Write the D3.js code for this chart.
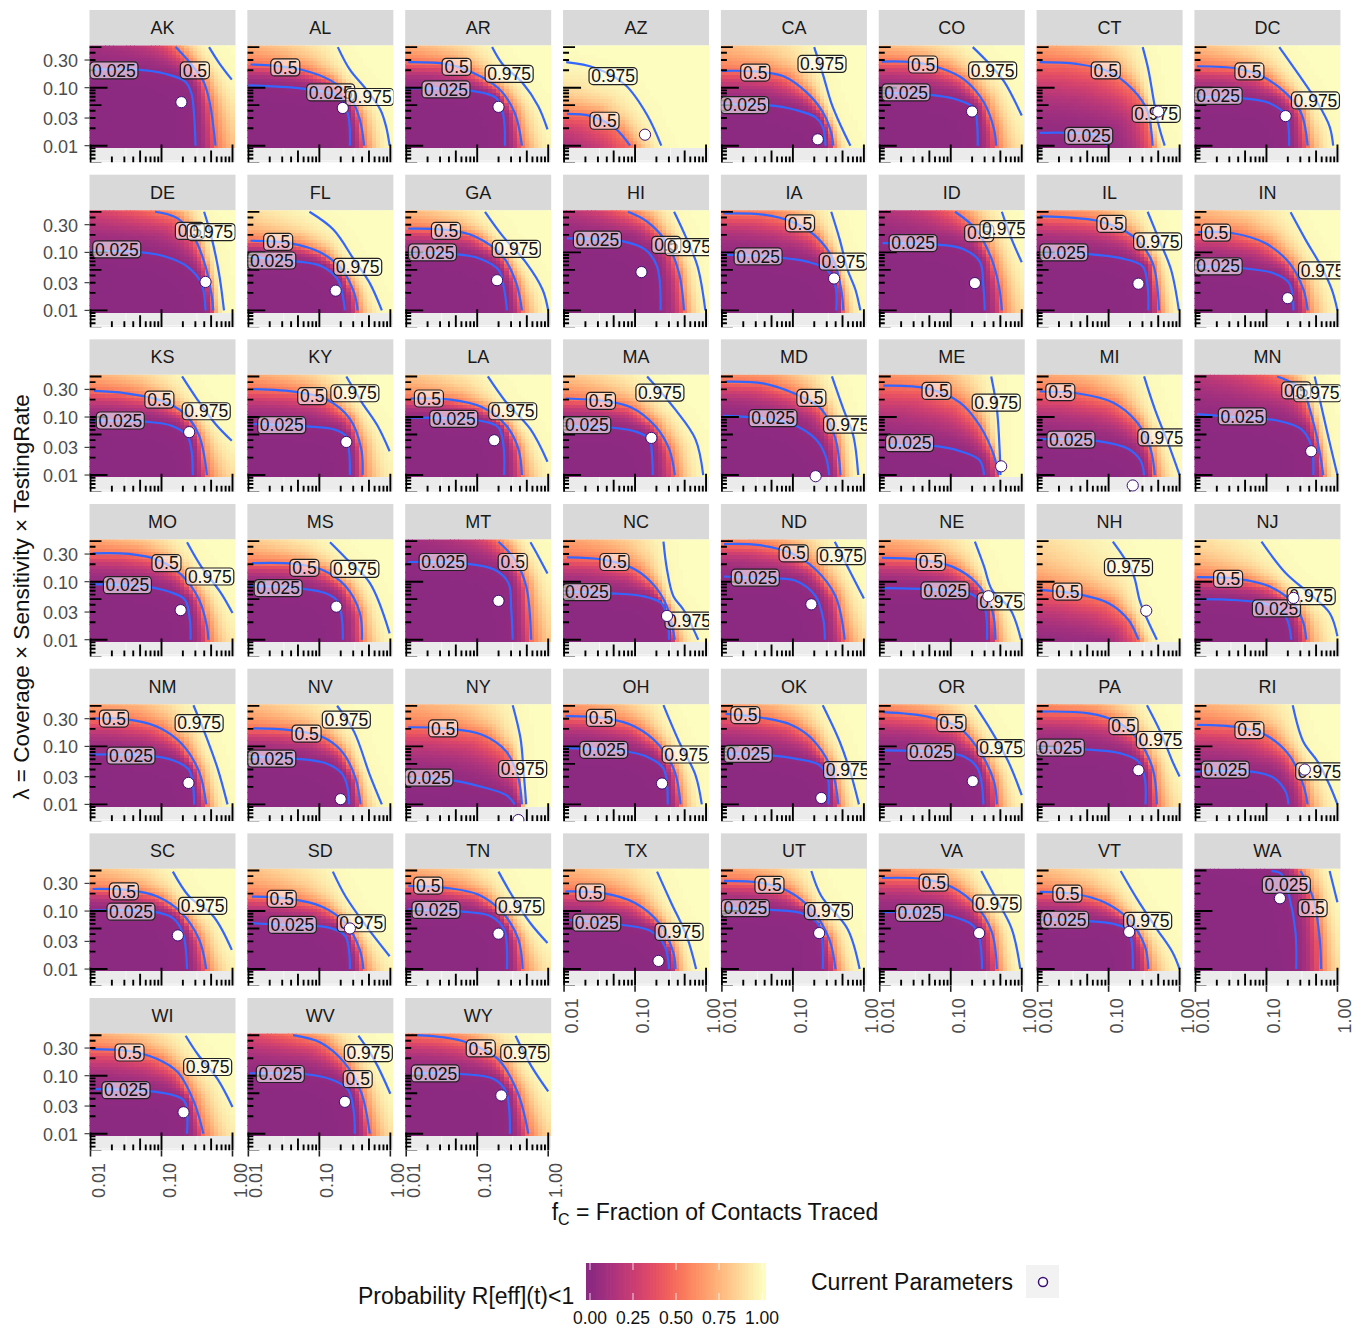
<!DOCTYPE html>
<html>
<head>
<meta charset="utf-8">
<script src="https://cdn.jsdelivr.net/npm/d3@7"></script>
<style>
  html, body { margin: 0; padding: 0; background: #fff; }
  svg { display: block; font-family: "Liberation Sans", Arial, sans-serif; }
</style>
</head>
<body>
<svg id="chart" width="1362" height="1330"></svg>
<script>
const states = ['AK','AL','AR','AZ','CA','CO','CT','DC','DE','FL','GA','HI','IA','ID','IL','IN','KS','KY','LA','MA','MD','ME','MI','MN','MO','MS','MT','NC','ND','NE','NH','NJ','NM','NV','NY','OH','OK','OR','PA','RI','SC','SD','TN','TX','UT','VA','VT','WA','WI','WV','WY']

// all pairs below are [fC, lambda], given in decades above 0.01
const contour025 = [
  [[0,1.31],[.66,1.31],[1.05,1.24],[1.33,1.11],[1.42,.91],[1.46,.51],[1.48,0]],
  [[0,1.04],[.41,1.02],[.86,.97],[1.26,.85],[1.40,.56],[1.43,0]],
  [[0,.99],[.28,.99],[.90,.95],[1.27,.82],[1.37,.51],[1.39,0]],
  [[-1,0],[-.5,-.3],[0,-.65],[.3,-1.5]],
  [[0,.71],[.64,.70],[1.03,.62],[1.32,.49],[1.42,.33],[1.46,0]],
  [[0,.91],[.68,.88],[1.07,.80],[1.33,.65],[1.37,.39],[1.38,0]],
  [[.03,.22],[.44,.22],[.89,.16],[.97,0]],
  [[.02,.84],[.64,.82],[1.03,.74],[1.27,.53],[1.31,.33],[1.32,0]],
  [[0,1.02],[.66,1.01],[1.05,.93],[1.36,.76],[1.56,.47],[1.62,0]],
  [[0,.92],[.64,.85],[1.03,.76],[1.26,.53],[1.34,.18],[1.36,0]],
  [[.03,.99],[.68,.97],[1.02,.90],[1.30,.70],[1.38,.36],[1.42,0]],
  [[.04,1.24],[.83,1.19],[1.14,1.05],[1.31,.76],[1.36,0]],
  [[.02,.96],[.81,.91],[1.20,.84],[1.48,.70],[1.60,.41],[1.61,0]],
  [[.04,1.16],[.85,1.13],[1.19,1.05],[1.41,.84],[1.46,.41],[1.48,0]],
  [[.04,.99],[.72,.97],[1.17,.90],[1.48,.76],[1.55,.41],[1.56,0]],
  [[.02,.76],[.64,.73],[1.10,.64],[1.32,.47],[1.38,0]],
  [[0,.94],[.77,.92],[1.14,.85],[1.36,.68],[1.42,.45],[1.44,0]],
  [[.07,.88],[.81,.84],[1.20,.79],[1.37,.68],[1.42,.39],[1.43,0]],
  [[.03,.99],[1.02,.94],[1.30,.82],[1.37,.51],[1.38,0]],
  [[.02,.84],[.66,.82],[1.03,.74],[1.20,.62],[1.24,.33],[1.25,0]],
  [[.02,1.02],[.47,.99],[.98,.88],[1.32,.62],[1.46,.33],[1.51,0]],
  [[.08,.51],[.85,.49],[1.19,.39],[1.41,.25],[1.47,0]],
  [[.03,.62],[.83,.59],[1.28,.45],[1.45,.25],[1.50,0]],
  [[.02,1.05],[.64,.99],[1.15,.94],[1.49,.79],[1.63,.51],[1.66,0]],
  [[0,.96],[.76,.92],[1.10,.83],[1.33,.69],[1.40,.34],[1.41,0]],
  [[.02,.93],[.69,.89],[1.09,.80],[1.26,.66],[1.32,.34],[1.33,0]],
  [[.03,1.34],[.79,1.32],[1.24,1.21],[1.44,.98],[1.48,.52],[1.50,0]],
  [[.02,.83],[.66,.80],[1.11,.75],[1.37,.63],[1.45,.41],[1.48,0]],
  [[.03,1.09],[.53,1.06],[1.03,1.02],[1.32,.75],[1.43,.34],[1.45,0]],
  [[.03,.89],[.85,.86],[1.30,.78],[1.47,.57],[1.51,0]],
  [[0,-.1],[.8,-.15],[1.0,-.5]],
  [[.02,.70],[.59,.68],[1.04,.60],[1.27,.40],[1.35,0]],
  [[0,.86],[.82,.84],[1.16,.76],[1.39,.59],[1.46,0]],
  [[.02,.82],[.64,.79],[1.09,.71],[1.32,.53],[1.40,.28],[1.42,0]],
  [[.03,.45],[.56,.43],[1.07,.30],[1.41,.16],[1.53,0]],
  [[.02,.97],[.83,.92],[1.17,.82],[1.40,.62],[1.46,0]],
  [[.03,.88],[.64,.85],[1.03,.79],[1.37,.68],[1.49,.45],[1.50,0]],
  [[.05,.93],[.85,.90],[1.19,.82],[1.38,.62],[1.46,0]],
  [[.03,.98],[.77,.94],[1.17,.88],[1.42,.74],[1.51,.45],[1.52,0]],
  [[0,.57],[.87,.55],[1.10,.46],[1.27,.22],[1.31,0]],
  [[.03,1.01],[.88,.99],[1.16,.88],[1.30,.62],[1.36,0]],
  [[.05,.79],[.69,.75],[1.15,.71],[1.37,.56],[1.43,0]],
  [[.03,1.03],[.79,.99],[1.19,.91],[1.38,.68],[1.42,0]],
  [[.02,.85],[.83,.76],[1.23,.65],[1.42,.39],[1.48,0]],
  [[.03,1.05],[.69,1.02],[1.15,.95],[1.37,.75],[1.42,0]],
  [[.03,.98],[.62,.98],[1.07,.89],[1.36,.69],[1.44,0]],
  [[.03,.86],[.66,.83],[1.06,.78],[1.28,.66],[1.34,0]],
  [[1.07,1.69],[1.21,1.64],[1.32,1.26],[1.41,.63],[1.42,0]],
  [[.04,.77],[.79,.74],[1.18,.66],[1.33,.55],[1.36,0]],
  [[.02,1.04],[.78,1.03],[1.16,.94],[1.40,.77],[1.48,.43],[1.50,0]],
  [[.08,1.04],[.77,1.03],[1.24,.94],[1.41,.71],[1.46,0]]
]

const contour50 = [
  [[1.2,1.70],[1.4,1.43],[1.59,1.11],[1.68,.74],[1.73,.33],[1.76,0]],
  [[.03,1.40],[.36,1.38],[.75,1.31],[1.15,1.13],[1.43,.85],[1.57,.45],[1.63,0]],
  [[.03,1.44],[.56,1.41],[.90,1.28],[1.30,.99],[1.53,.56],[1.63,0]],
  [[.04,.55],[.38,.51],[.72,.30],[.93,0]],
  [[0,1.29],[.47,1.28],[.86,1.20],[1.20,.91],[1.43,.56],[1.54,.22],[1.57,0]],
  [[.03,1.45],[.45,1.44],[.85,1.34],[1.19,1.14],[1.47,.74],[1.61,.28],[1.64,0]],
  [[.03,1.44],[.55,1.41],[1.0,1.28],[1.34,.97],[1.54,.62],[1.62,0]],
  [[.02,1.37],[.59,1.33],[.93,1.20],[1.27,.91],[1.49,.56],[1.58,0]],
  [[.91,1.70],[1.22,1.59],[1.45,1.28],[1.62,.76],[1.70,.30],[1.73,0]],
  [[.03,1.20],[.58,1.16],[1.03,.99],[1.32,.70],[1.49,.30],[1.54,0]],
  [[.03,1.41],[.56,1.39],[.96,1.28],[1.36,.93],[1.55,.47],[1.63,0]],
  [[.90,1.70],[1.17,1.53],[1.45,1.16],[1.62,.64],[1.69,0]],
  [[.02,1.67],[.58,1.65],[.98,1.53],[1.32,1.28],[1.57,.87],[1.68,.36],[1.71,0]],
  [[1.06,1.70],[1.36,1.39],[1.58,.87],[1.68,.41],[1.72,0]],
  [[.03,1.62],[.55,1.59],[.89,1.53],[1.34,1.28],[1.62,.82],[1.71,0]],
  [[.04,1.35],[.53,1.33],[.98,1.16],[1.32,.82],[1.52,.36],[1.58,0]],
  [[.05,1.45],[.49,1.41],[1.0,1.28],[1.33,1.05],[1.53,.68],[1.64,0]],
  [[.07,1.48],[.69,1.43],[1.09,1.31],[1.43,.97],[1.59,.45],[1.61,0]],
  [[.06,1.32],[.62,1.30],[1.07,1.17],[1.41,.85],[1.58,.45],[1.63,0]],
  [[.02,1.32],[.55,1.28],[.94,1.17],[1.28,.85],[1.48,.45],[1.56,0]],
  [[.05,1.61],[.58,1.58],[1.03,1.40],[1.40,1.14],[1.60,.62],[1.67,0]],
  [[.05,1.54],[.68,1.49],[1.13,1.25],[1.41,.85],[1.61,.33],[1.67,0]],
  [[.03,1.44],[.55,1.41],[1.06,1.25],[1.40,.91],[1.59,.45],[1.65,0]],
  [[1.15,1.70],[1.49,1.48],[1.66,.91],[1.75,.39],[1.80,0]],
  [[.03,1.49],[.54,1.48],[.94,1.38],[1.28,1.12],[1.53,.69],[1.64,.23],[1.66,0]],
  [[.05,1.32],[.64,1.31],[1.03,1.21],[1.37,.92],[1.57,.46],[1.60,0]],
  [[1.30,1.69],[1.53,1.38],[1.69,.92],[1.76,0]],
  [[.04,1.42],[.55,1.38],[1.0,1.21],[1.28,.92],[1.45,.57],[1.56,0]],
  [[.03,1.65],[.53,1.63],[.98,1.49],[1.32,1.21],[1.60,.75],[1.73,0]],
  [[.03,1.41],[.56,1.38],[1.02,1.26],[1.36,.98],[1.58,.52],[1.63,0]],
  [[.03,.86],[.55,.79],[1.0,.63],[1.28,.34],[1.42,0]],
  [[.02,1.08],[.59,1.05],[1.04,.92],[1.38,.63],[1.52,.29],[1.56,0]],
  [[.03,1.48],[.49,1.47],[.94,1.34],[1.28,1.05],[1.53,.56],[1.63,0]],
  [[.07,1.31],[.58,1.28],[1.03,1.17],[1.32,.91],[1.51,.45],[1.58,0]],
  [[.03,1.33],[.56,1.31],[1.07,1.20],[1.41,.91],[1.58,.45],[1.63,0]],
  [[.02,1.52],[.55,1.49],[1.0,1.34],[1.34,1.02],[1.56,.56],[1.64,0]],
  [[.05,1.56],[.58,1.49],[.98,1.37],[1.26,1.14],[1.54,.62],[1.64,0]],
  [[.05,1.59],[.68,1.51],[1.13,1.31],[1.44,.85],[1.61,.39],[1.65,0]],
  [[.03,1.60],[.72,1.57],[1.11,1.43],[1.40,1.14],[1.62,.62],[1.68,0]],
  [[.02,1.37],[.59,1.33],[.98,1.20],[1.32,.85],[1.52,.33],[1.58,0]],
  [[.03,1.38],[.54,1.36],[.94,1.25],[1.28,.97],[1.53,.51],[1.63,0]],
  [[.05,1.25],[.58,1.21],[1.03,1.08],[1.37,.79],[1.57,.33],[1.62,0]],
  [[.03,1.43],[.56,1.40],[1.02,1.28],[1.36,.97],[1.58,.51],[1.64,0]],
  [[.02,1.34],[.55,1.31],[1.0,1.14],[1.34,.79],[1.54,.28],[1.57,0]],
  [[.03,1.52],[.53,1.49],[.92,1.35],[1.26,1.03],[1.51,.52],[1.60,0]],
  [[.03,1.57],[.62,1.55],[1.02,1.41],[1.36,1.09],[1.58,.63],[1.65,0]],
  [[.03,1.33],[.55,1.29],[.94,1.15],[1.28,.86],[1.51,.40],[1.56,0]],
  [[1.48,1.69],[1.66,1.21],[1.75,.52],[1.77,0]],
  [[.01,1.46],[.51,1.43],[.94,1.29],[1.23,1.06],[1.46,.54],[1.59,0]],
  [[.63,1.70],[1.02,1.57],[1.35,1.23],[1.59,.71],[1.71,0]],
  [[.15,1.70],[.53,1.66],[.86,1.57],[1.29,1.29],[1.57,.71],[1.72,0]]
]

const contour975 = [
  [[1.67,1.70],[1.81,1.43],[1.99,1.14]],
  [[1.26,1.70],[1.43,1.31],[1.66,.97],[1.86,.62],[1.94,.33],[1.99,0]],
  [[1.21,1.70],[1.36,1.40],[1.64,1.08],[1.86,.68],[1.99,.28]],
  [[.03,1.44],[.44,1.34],[.86,1.05],[1.17,.53],[1.37,0]],
  [[1.30,1.70],[1.43,1.20],[1.54,.74],[1.68,.33],[1.81,0]],
  [[1.31,1.70],[1.53,1.43],[1.75,1.11],[2.0,.52]],
  [[1.48,1.70],[1.56,1.31],[1.65,.68],[1.71,.33],[1.79,0]],
  [[1.18,1.70],[1.44,1.25],[1.72,.74],[1.89,.33],[1.94,0]],
  [[1.60,1.70],[1.70,1.28],[1.81,.64],[1.88,0]],
  [[.86,1.70],[1.20,1.39],[1.49,.87],[1.71,.47],[1.88,0]],
  [[1.11,1.70],[1.36,1.28],[1.69,.82],[1.92,.36],[2.0,0]],
  [[1.55,1.70],[1.71,1.28],[1.88,.76],[1.99,0]],
  [[1.54,1.70],[1.66,1.22],[1.77,.70],[1.88,.36],[1.95,0]],
  [[1.72,1.70],[1.84,1.28],[2.0,.83]],
  [[1.55,1.70],[1.71,1.22],[1.88,.70],[1.99,0]],
  [[1.34,1.69],[1.55,1.22],[1.77,.76],[1.92,.36],[2.0,0]],
  [[1.29,1.70],[1.50,1.31],[1.76,.88],[1.99,.59]],
  [[1.38,1.70],[1.60,1.25],[1.82,.85],[1.99,.41]],
  [[1.15,1.70],[1.41,1.25],[1.75,.79],[1.99,.23]],
  [[1.17,1.70],[1.56,1.14],[1.85,.62],[1.96,0]],
  [[1.55,1.70],[1.71,1.14],[1.85,.68],[1.92,0]],
  [[1.57,1.70],[1.65,1.14],[1.69,.39],[1.70,0]],
  [[1.50,1.70],[1.65,1.14],[1.85,.51],[2.0,0]],
  [[1.68,1.70],[1.77,1.20],[1.89,.56],[2.0,0]],
  [[1.36,1.68],[1.56,1.26],[1.84,.80],[2.0,.46]],
  [[1.15,1.68],[1.37,1.41],[1.71,.98],[1.99,.11]],
  [[1.75,1.68],[1.86,1.44],[1.99,1.14]],
  [[1.40,1.69],[1.45,1.21],[1.54,.75],[1.68,.52],[1.89,0]],
  [[1.59,1.69],[1.77,1.26],[2.0,.71]],
  [[1.34,1.69],[1.47,1.26],[1.58,.86],[1.84,.52],[1.99,0]],
  [[1.06,1.69],[1.34,1.15],[1.45,.63],[1.68,0]],
  [[.93,1.69],[1.27,1.15],[1.60,.80],[1.89,.46],[2.0,.06]],
  [[1.45,1.71],[1.62,1.20],[1.79,.62],[1.93,0]],
  [[1.25,1.70],[1.49,1.25],[1.71,.51],[1.88,0]],
  [[1.50,1.71],[1.61,1.14],[1.65,.62],[1.69,0]],
  [[1.40,1.71],[1.62,1.08],[1.85,.51],[1.94,0]],
  [[1.42,1.71],[1.66,1.08],[1.82,.51],[1.93,0]],
  [[1.34,1.71],[1.58,1.25],[1.81,.74],[2.0,.16]],
  [[1.54,1.71],[1.73,1.25],[1.90,.74],[2.0,.48]],
  [[1.37,1.71],[1.52,1.08],[1.72,.74],[1.89,.33],[2.0,0]],
  [[1.16,1.68],[1.39,1.25],[1.73,.91],[1.99,.33]],
  [[1.19,1.68],[1.37,1.25],[1.66,.74],[1.99,.22]],
  [[1.30,1.68],[1.50,1.25],[1.75,.79],[1.99,.45]],
  [[1.31,1.68],[1.51,1.14],[1.73,.56],[1.86,0]],
  [[1.26,1.69],[1.40,1.26],[1.77,.69],[1.94,0]],
  [[1.43,1.69],[1.64,1.21],[1.86,.69],[1.98,0]],
  [[1.17,1.69],[1.40,1.21],[1.68,.69],[1.90,.29],[2.0,0]],
  [[1.89,1.69],[2.0,1.15]],
  [[1.34,1.69],[1.51,1.37],[1.79,.94],[2.0,.46]],
  [[1.55,1.69],[1.78,1.26],[2.0,.69]],
  [[1.54,1.69],[1.76,1.17],[2.0,.73]]
]

const label025 = [[.33,1.30],[1.16,.92],[.56,.97],null,[.32,.70],[.37,.92],[.72,.17],[.32,.86],[.37,1.05],[.33,.86],[.37,1.00],[.47,1.22],[.51,.93],[.47,1.16],[.37,1.00],[.32,.76],[.42,.94],[.47,.86],[.67,.97],[.32,.86],[.72,.98],[.42,.55],[.47,.61],[.66,1.01],[.52,.94],[.42,.89],[.52,1.34],[.32,.82],[.47,1.07],[.92,.85],null,[1.14,.54],[.57,.84],[.33,.79],[.32,.46],[.56,.94],[.37,.87],[.72,.90],[.32,.98],[.42,.60],[.57,.99],[.62,.76],[.42,1.02],[.46,.80],[.33,1.05],[.56,.97],[.38,.85],[1.28,1.45],[.50,.75],[.45,1.03],[.41,1.04]]
const label50 = [[1.47,1.30],[.52,1.35],[.71,1.36],[.57,.43],[.47,1.26],[.61,1.40],[.96,1.30],[.76,1.28],[1.40,1.37],[.42,1.18],[.56,1.37],[1.44,1.13],[1.10,1.50],[1.40,1.33],[1.04,1.49],[.29,1.34],[.97,1.30],[.90,1.36],[.32,1.32],[.52,1.28],[1.26,1.33],[.80,1.45],[.32,1.43],[1.42,1.46],[1.07,1.32],[.79,1.24],[1.50,1.34],[.71,1.34],[1.01,1.49],[.72,1.34],[.42,.83],[.46,1.05],[.33,1.48],[.82,1.22],[.52,1.31],[.52,1.49],[.33,1.54],[1.01,1.40],[1.21,1.35],[.76,1.28],[.47,1.34],[.47,1.21],[.31,1.44],[.37,1.32],[.67,1.45],[.76,1.49],[.42,1.30],[1.65,1.05],[.55,1.40],[1.54,.94],[1.05,1.47]]
const label975 = [null,[1.71,.84],[1.45,1.24],[.69,1.20],[1.41,1.41],[1.59,1.30],[1.67,.55],[1.69,.78],[1.70,1.35],[1.54,.75],[1.55,1.06],[1.76,1.09],[1.71,.84],[1.75,1.40],[1.69,1.19],[1.79,.69],[1.63,1.10],[1.50,1.41],[1.50,1.10],[1.35,1.42],[1.77,.87],[1.64,1.25],[1.75,.65],[1.72,1.41],[1.68,1.09],[1.50,1.22],null,[1.76,.33],[1.68,1.44],[1.71,.66],[1.28,1.25],[1.63,.75],[1.53,1.40],[1.38,1.46],[1.64,.61],[1.72,.86],[1.77,.59],[1.71,.97],[1.73,1.11],[1.75,.57],[1.58,1.09],[1.59,.79],[1.60,1.08],[1.62,.64],[1.50,1.00],[1.65,1.13],[1.55,.83],null,[1.65,1.15],[1.69,1.39],[1.67,1.39]]

const currentParams = [[1.28,.75],[1.33,.65],[1.30,.67],[1.14,.19],[1.35,.11],[1.30,.59],[1.70,.59],[1.27,.51],[1.62,.49],[1.23,.34],[1.28,.52],[1.09,.66],[1.58,.55],[1.34,.47],[1.42,.46],[1.30,.21],[1.39,.74],[1.38,.57],[1.24,.60],[1.23,.64],[1.32,-.02],[1.71,.15],[1.34,-.18],[1.63,.41],[1.27,.51],[1.24,.57],[1.30,.67],[1.45,.41],[1.26,.61],[1.53,.75],[1.53,.50],[1.38,.72],[1.38,.37],[1.30,.09],[1.58,-.27],[1.38,.36],[1.40,.11],[1.31,.40],[1.42,.59],[1.54,.60],[1.23,.58],[1.43,.70],[1.30,.61],[1.33,.14],[1.37,.62],[1.40,.62],[1.29,.64],[1.19,1.22],[1.31,.37],[1.36,.55],[1.34,.66]]

const levels = [0.025, 0.5, 0.975]
const levelNames = ['0.025', '0.5', '0.975']
const yTickValues = [0.01, 0.03, 0.1, 0.3]
const yTickLabels = ['0.01', '0.03', '0.10', '0.30']
const xTickValues = [0.01, 0.1, 1]
const xTickLabels = ['0.01', '0.10', '1.00']
const legendTicks = [0, 0.25, 0.5, 0.75, 1]

const ncol = 8
const panelW = 146
const panelH = 117
const stripH = 35.5
const stepX = 157.85
const stepY = 164.67
const nx = 35
const ny = 30
const fromDecades = (d) => 0.01 * Math.pow(10, d)

const svg = d3.select('#chart')
const color = d3.scaleSequential((t) => d3.interpolateMagma(0.4 + 0.6 * t)).domain([0, 1])
const x = d3.scaleLog().domain([0.01, 1]).range([1, 143])
const y = d3.scaleLog().domain([0.01, 0.1]).range([100.2, 42.2])
const line = d3.line()
  .x((d) => x(fromDecades(d[0])))
  .y((d) => y(fromDecades(d[1])))
  .curve(d3.curveCatmullRom.alpha(0.5))

// height of a read contour at u, straight on past both of its ends
const curveAt = (pts, u) => {
  let i = 0
  while (i < pts.length - 2 && u > pts[i + 1][0]) i++
  const [a, b] = [pts[i], pts[i + 1]]
  return a[1] + (b[1] - a[1]) * (u - a[0]) / (b[0] - a[0])
}

// signed distance to a contour along the diagonal, positive on the low side
const gap = (pts, u, v) => {
  let lo = -6
  let hi = 6
  for (let k = 0; k < 22; k++) {
    const s = (lo + hi) / 2
    if (v + s - curveAt(pts, u + s) < 0) lo = s
    else hi = s
  }
  return (lo + hi) / 2
}

// heat cell value taken from where it sits between the three contours of its state
const cellValue = (i, u, v) => {
  const edge = Math.log(levels[2] / (1 - levels[2]))
  const s0 = gap(contour025[i], u, v)
  const s1 = gap(contour50[i], u, v)
  const s2 = gap(contour975[i], u, v)
  let l
  if (s0 >= 0) l = -edge - 8 * s0
  else if (s1 >= 0) l = -edge + edge * -s0 / (s1 - s0)
  else if (s2 >= 0) l = edge * -s1 / (s2 - s1)
  else l = edge - 8 * s2
  return 1 / (1 + Math.exp(-l))
}

const decades = [0.001, 0.01, 0.1, 1]
const logTicks = decades.flatMap((d) => d3.range(1, 10).map((m) => ({ v: d * m, m })))
const tickLen = (m) => m === 1 ? 18 : m === 5 ? 12 : 6

const cellU = d3.range(nx).map((i) => i * 2 / (nx - 1))
const cellV = d3.range(ny).map((j) => j * 1.73 / (ny - 1))
const cellW = x(fromDecades(2 / (nx - 1))) - x(fromDecades(0))
const cellH = y(fromDecades(0)) - y(fromDecades(1.73 / (ny - 1)))

const defs = svg.append('defs')
defs.append('clipPath').attr('id', 'panel-clip')
  .append('rect').attr('width', panelW).attr('height', panelH)
defs.append('clipPath').attr('id', 'heat-clip')
  .append('rect').attr('width', panelW).attr('height', y(0.01) + 1.5)

states.forEach((st, i) => {
  const col = i % ncol
  const row = Math.floor(i / ncol)
  const px = 89.5 + col * stepX
  const py = 10 + row * stepY

  const g = svg.append('g').attr('transform', `translate(${px},${py})`)

  g.append('rect').attr('width', panelW).attr('height', stripH).attr('fill', '#d9d9d9')
  g.append('text')
    .attr('x', panelW / 2).attr('y', stripH / 2 + 6.3)
    .attr('text-anchor', 'middle')
    .attr('font-size', 18).attr('fill', '#1a1a1a')
    .text(st)

  const inner = g.append('g').attr('transform', `translate(0,${stripH})`)
  const p = inner.append('g').attr('clip-path', 'url(#panel-clip)')

  p.append('rect').attr('width', panelW).attr('height', panelH).attr('fill', '#ebebeb')

  p.selectAll('.grid-x').data([0.01, 0.0316, 0.1, 0.316, 1]).join('line')
    .attr('x1', (d) => x(d)).attr('x2', (d) => x(d))
    .attr('y1', 0).attr('y2', panelH)
    .attr('stroke', '#fff').attr('stroke-width', (d, k) => k % 2 ? 0.6 : 1.1)
  p.append('line')
    .attr('x1', 0).attr('x2', panelW)
    .attr('y1', y(0.0055)).attr('y2', y(0.0055))
    .attr('stroke', '#fff').attr('stroke-width', 0.6)

  const cells = cellU.flatMap((u) => cellV.map((v) => ({ u, v, p: cellValue(i, u, v) })))
  p.append('g').attr('shape-rendering', 'crispEdges')
    .selectAll('rect').data(cells).join('rect')
    .attr('x', (d) => x(fromDecades(d.u)) - cellW / 2)
    .attr('y', (d) => y(fromDecades(d.v)) - cellH / 2)
    .attr('width', cellW + 0.5)
    .attr('height', cellH + 0.5)
    .attr('fill', (d) => color(d.p))

  p.append('g').attr('clip-path', 'url(#heat-clip)')
    .selectAll('path').data([contour025[i], contour50[i], contour975[i]]).join('path')
    .attr('d', line)
    .attr('fill', 'none')
    .attr('stroke', '#3366ff')
    .attr('stroke-width', 2.2)

  // annotation_logticks style rugs
  p.selectAll('.rug-x').data(logTicks).join('line')
    .attr('x1', (d) => x(d.v)).attr('x2', (d) => x(d.v))
    .attr('y1', panelH).attr('y2', (d) => panelH - tickLen(d.m))
    .attr('stroke', '#000').attr('stroke-width', 1.9)
  p.selectAll('.rug-y').data(logTicks).join('line')
    .attr('x1', 0).attr('x2', (d) => tickLen(d.m))
    .attr('y1', (d) => y(d.v)).attr('y2', (d) => y(d.v))
    .attr('stroke', '#000').attr('stroke-width', 1.9)

  const labels = [label025[i], label50[i], label975[i]]
    .map((pos, k) => pos && ({ pos, text: levelNames[k] }))
    .filter(Boolean)
  const lab = p.selectAll('.lab').data(labels).join('g')
    .attr('transform', (d) => `translate(${x(fromDecades(d.pos[0]))},${y(fromDecades(d.pos[1]))})`)
  lab.append('rect')
    .attr('x', (d) => d.text.length === 3 ? -14.5 : -24)
    .attr('width', (d) => d.text.length === 3 ? 29 : 48)
    .attr('y', -8.5)
    .attr('height', 17)
    .attr('rx', 4)
    .attr('fill', '#fff').attr('fill-opacity', 0.58)
    .attr('stroke', '#222').attr('stroke-width', 1.2)
  lab.append('text')
    .attr('text-anchor', 'middle').attr('y', 6.2)
    .attr('font-size', 17.5).attr('fill', '#111')
    .text((d) => d.text)

  p.append('circle')
    .attr('cx', x(fromDecades(currentParams[i][0])))
    .attr('cy', y(fromDecades(currentParams[i][1])))
    .attr('r', 5.6)
    .attr('fill', '#fff')
    .attr('stroke', '#3b0f70').attr('stroke-width', 1)

  if (col === 0) {
    inner.selectAll('.ytick').data(yTickValues).join('line')
      .attr('x1', -5).attr('x2', 0)
      .attr('y1', (d) => y(d)).attr('y2', (d) => y(d))
      .attr('stroke', '#333').attr('stroke-width', 1.1)
    inner.selectAll('.ylab').data(yTickValues).join('text')
      .attr('x', -11.5).attr('y', (d) => y(d) + 7)
      .attr('text-anchor', 'end')
      .attr('font-size', 18).attr('fill', '#4d4d4d')
      .text((d, k) => yTickLabels[k])
  }

  if (i + ncol >= states.length) {
    inner.selectAll('.xtick').data(xTickValues).join('line')
      .attr('x1', (d) => x(d)).attr('x2', (d) => x(d))
      .attr('y1', panelH).attr('y2', panelH + 6)
      .attr('stroke', '#222').attr('stroke-width', 1.6)
    inner.selectAll('.xlab').data(xTickValues).join('text')
      .attr('transform', (d) => `translate(${x(d) + 14},${panelH + 12.5}) rotate(-90)`)
      .attr('text-anchor', 'end')
      .attr('font-size', 18).attr('fill', '#4d4d4d')
      .text((d, k) => xTickLabels[k])
  }
})

// axis titles
svg.append('text')
  .attr('transform', 'translate(29,597) rotate(-90)')
  .attr('text-anchor', 'middle')
  .attr('font-size', 22.5).attr('fill', '#111')
  .text('λ = Coverage × Sensitivity × TestingRate')

const xTitle = svg.append('text')
  .attr('x', 715).attr('y', 1220)
  .attr('text-anchor', 'middle')
  .attr('font-size', 23).attr('fill', '#111')
xTitle.append('tspan').text('f')
xTitle.append('tspan').attr('dy', 5).attr('font-size', 16).text('C')
xTitle.append('tspan').attr('dy', -5).text(' = Fraction of Contacts Traced')

// legend
const legendX = d3.scaleLinear().domain([0, 1]).range([590, 762])
const legend = svg.append('g')
legend.selectAll('.band').data(d3.range(0, 1, 1 / 60)).join('rect')
  .attr('x', (d) => legendX(d)).attr('y', 1263)
  .attr('width', 3.6).attr('height', 37)
  .attr('fill', (d) => color(d))
legend.append('rect')
  .attr('x', 586).attr('y', 1263).attr('width', 4.5).attr('height', 37)
  .attr('fill', color(0))
legend.append('rect')
  .attr('x', 762).attr('y', 1263).attr('width', 4).attr('height', 37)
  .attr('fill', color(1))
legendTicks.forEach((t) => {
  [[1263, 1270], [1293, 1300]].forEach(([a, b]) => {
    legend.append('line')
      .attr('x1', legendX(t)).attr('x2', legendX(t))
      .attr('y1', a).attr('y2', b)
      .attr('stroke', '#fff').attr('stroke-width', 0.8)
  })
})
legend.selectAll('.leglab').data(legendTicks).join('text')
  .attr('x', (d) => legendX(d)).attr('y', 1324)
  .attr('text-anchor', 'middle')
  .attr('font-size', 17.5).attr('fill', '#111')
  .text((d) => d.toFixed(2))
legend.append('text')
  .attr('x', 358).attr('y', 1304)
  .attr('font-size', 23).attr('fill', '#111')
  .text('Probability R[eff](t)<1')
legend.append('text')
  .attr('x', 811).attr('y', 1290)
  .attr('font-size', 23).attr('fill', '#111')
  .text('Current Parameters')
legend.append('rect')
  .attr('x', 1026).attr('y', 1265).attr('width', 33).attr('height', 33)
  .attr('fill', '#f2f2f2')
legend.append('circle')
  .attr('cx', 1043).attr('cy', 1282).attr('r', 4.5)
  .attr('fill', '#fff').attr('stroke', '#3b0f70').attr('stroke-width', 1.5)
</script>
</body>
</html>
